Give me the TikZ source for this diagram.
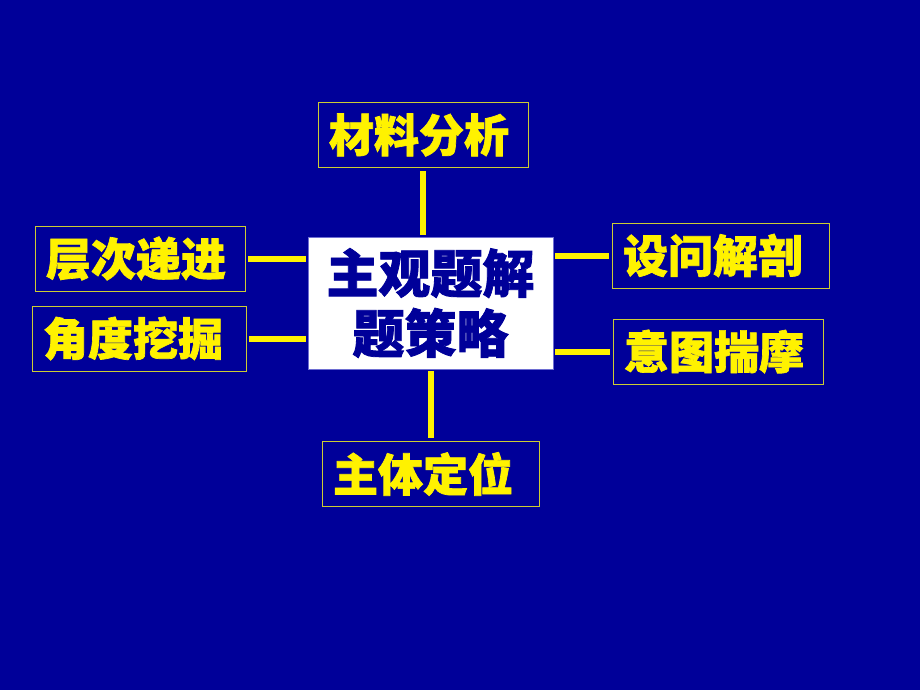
\documentclass[tikz,border=0pt]{standalone}
\usepackage{fontspec}
\usepackage{tikz}
\newfontfamily\cjk{Noto Sans CJK SC}[BoldFont={* Black}, BoldFeatures={FakeBold=1.5}]

\definecolor{bgblue}{RGB}{0,0,153}
\definecolor{rim}{RGB}{204,204,51}
\definecolor{cenrim}{RGB}{110,110,210}

\begin{document}
\begin{tikzpicture}[x=1pt,y=-1pt,
        leaf/.style={draw=rim, line width=0.8pt, text=yellow,
                        font=\cjk\bfseries\fontsize{45}{50}\selectfont,
                        inner xsep=11pt, inner ysep=0pt, text width=#1,
                        align=left, minimum height=65pt},
        link/.style={yellow, line width=6pt, shorten <=2pt, shorten >=3pt}]
    \fill[bgblue] (0,0) rectangle (920,690);
    \useasboundingbox (0,0) rectangle (920,690);

    % centre
    \node[fill=white, draw=cenrim, line width=0.8pt, text=bgblue,
          font=\cjk\bfseries\fontsize{52}{60}\selectfont, align=center,
          minimum width=245pt, minimum height=132pt, inner sep=0pt]
        (cen) at (430.5,303) {主观题解\\题策略};

    % outer boxes
    \node[leaf=188pt] (cail) at (423,135)   {材料分析};
    \node[leaf=188pt] (ceng) at (140,258.5) {层次递进};
    \node[leaf=192pt] (jiao) at (139,338.5) {角度挖掘};
    \node[leaf=195pt] (wen)  at (720.5,255.5) {设问解剖};
    \node[leaf=188pt] (yitu) at (718,351.5) {意图揣摩};
    \node[leaf=195pt] (zhu)  at (430.5,474) {主体定位};

    \draw[link] (cen.north -| cail.south) -- (cail.south);
    \draw[link] (cen.west |- ceng.east) -- (ceng.east);
    \draw[link] (cen.west |- jiao.east) -- (jiao.east);
    \draw[link] (cen.east |- wen.west) -- (wen.west);
    \draw[link] (cen.east |- yitu.west) -- (yitu.west);
    \draw[link] (cen.south -| zhu.north) -- (zhu.north);
\end{tikzpicture}
\end{document}
